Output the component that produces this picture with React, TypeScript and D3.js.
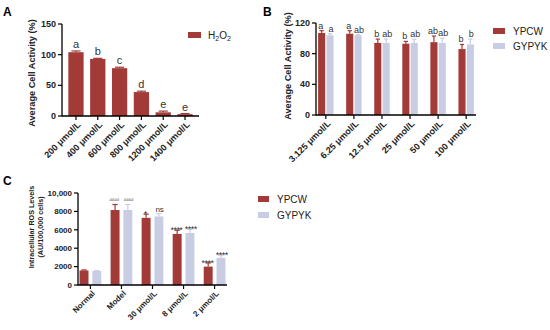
import React from "react";
import * as d3 from "d3";

const RED = "#a23b37";
const LAV = "#c9cde4";
const FONT = "'Liberation Sans', Arial, Helvetica, sans-serif";

// panel A: H2O2 dose
const aDoses = ["200 μmol/L", "400 μmol/L", "600 μmol/L", "800 μmol/L", "1200 μmol/L", "1400 μmol/L"];
const aActivity = [104, 93, 78, 39, 6, 3];
const aActivityErr = [2, 1, 1.5, 1.5, 2, 1];
const aLetters = ["a", "b", "c", "d", "e", "e"];
const aTicks = [0, 50, 100, 150];

// panel B: YPCW vs GYPYK
const bDoses = ["3.125 μmol/L", "6.25 μmol/L", "12.5 μmol/L", "25 μmol/L", "50 μmol/L", "100 μmol/L"];
const bYpcw = [107, 106, 94, 93, 95, 86];
const bYpcwErr = [3, 4, 5, 3, 8, 6];
const bYpcwLetters = ["a", "a", "b", "b", "ab", "b"];
const bGypyk = [104, 104, 94, 94, 94, 92];
const bGypykErr = [2, 1, 5, 5, 6, 7];
const bGypykLetters = ["a", "ab", "ab", "ab", "ab", "b"];
const bTicks = [0, 40, 80, 120];

// panel C: ROS levels
const cGroups = ["Normal", "Model", "30 μmol/L", "8 μmol/L", "2 μmol/L"];
const cYpcw = [1580, 8150, 7300, 5550, 2000];
const cYpcwErr = [60, 600, 400, 400, 400];
const cYpcwMarks = ["", "####", "*", "****", "****"];
const cGypyk = [1520, 8150, 7450, 5650, 2950];
const cGypykErr = [40, 600, 300, 400, 300];
const cGypykMarks = ["", "####", "ns", "****", "****"];
const cTicks = [0, 2000, 4000, 6000, 8000, 10000];

type Series = { color: string; values: number[]; errs: number[]; marks: string[] };

type PanelProps = {
  cats: string[];
  series: Series[];
  xr: [number, number];
  yr: [number, number];
  max: number;
  ticks: number[];
  tickFmt: (v: number) => string;
  pin: number;
  pout: number;
  subPad: number;
  fs: number;
  markFs: number;
  markGap: number;
  nudge?: number;
};

const BarPanel = ({ cats, series, xr, yr, max, ticks, tickFmt, pin, pout, subPad, fs, markFs, markGap, nudge = 0 }: PanelProps) => {
  const x = d3.scaleBand<string>().domain(cats).range(xr).paddingInner(pin).paddingOuter(pout);
  const sub = d3
    .scaleBand<number>()
    .domain(series.map((_, i) => i))
    .range([0, x.bandwidth()])
    .paddingInner(subPad);
  const y = d3.scaleLinear().domain([0, max]).range(yr);
  const base = y(0);

  return (
    <g fontFamily={FONT}>
      {series.map((s, si) =>
        cats.map((c, i) => {
          const bx = (x(c) ?? 0) + (sub(si) ?? 0);
          const bw = sub.bandwidth();
          const cx = bx + bw / 2;
          const top = y(s.values[i]);
          const et = y(s.values[i] + s.errs[i]);
          const m = s.marks[i];
          const isStar = m.startsWith("*");
          const isHash = m.startsWith("#");
          // asterisks sit high in the em box, so their baseline goes lower
          const my = isStar ? et + 3 : isHash ? et - 4 : et - markGap;
          const mx = cx + (si - (series.length - 1) / 2) * nudge;
          return (
            <g key={`${si}-${i}`}>
              <rect x={bx} y={top} width={bw} height={base - top} fill={s.color} />
              <line x1={cx} x2={cx} y1={top} y2={et} stroke={s.color} strokeWidth={1.2} />
              <line x1={cx - bw * 0.3} x2={cx + bw * 0.3} y1={et} y2={et} stroke={s.color} strokeWidth={1.2} />
              {m && (
                <text
                  x={mx}
                  y={my}
                  textAnchor="middle"
                  fontSize={isHash ? markFs * 0.55 : isStar ? markFs * 1.12 : markFs}
                  letterSpacing={isStar ? -0.5 : 0}
                  fill={isHash ? "#888" : "#333"}
                  fontWeight={isHash ? "bold" : "normal"}
                >
                  {m}
                </text>
              )}
            </g>
          );
        })
      )}
      {/* y axis */}
      <line x1={xr[0]} x2={xr[0]} y1={base + 0.6} y2={y(max)} stroke="#000" strokeWidth={1.3} />
      {ticks.map((t) => (
        <g key={t}>
          <line x1={xr[0] - 4} x2={xr[0]} y1={y(t)} y2={y(t)} stroke="#000" strokeWidth={1.2} />
          <text x={xr[0] - 6} y={y(t)} dy="0.35em" textAnchor="end" fontSize={fs} fontWeight="bold" fill="#222">
            {tickFmt(t)}
          </text>
        </g>
      ))}
      {/* x axis */}
      <line x1={xr[0]} x2={xr[1]} y1={base} y2={base} stroke="#000" strokeWidth={1.3} />
      {cats.map((c) => {
        const cx = (x(c) ?? 0) + x.bandwidth() / 2;
        return (
          <g key={c}>
            <line x1={cx} x2={cx} y1={base} y2={base + 4} stroke="#000" strokeWidth={1.2} />
            <text
              transform={`translate(${cx + 3},${base + 7}) rotate(-45)`}
              textAnchor="end"
              dy="0.35em"
              fontSize={fs}
              fontWeight="bold"
              fill="#222"
            >
              {c}
            </text>
          </g>
        );
      })}
    </g>
  );
};

export default function App() {
  const fmtC = d3.format(",");
  return (
    <svg width={550} height={330} style={{ display: "block", position: "absolute", left: 0, top: 0 }}>
      <rect width={550} height={330} fill="#fff" />
      <g fontFamily={FONT}>
        <text x={3} y={16} fontSize={12} fontWeight="bold">A</text>
        <text x={263} y={16} fontSize={12} fontWeight="bold">B</text>
        <text x={3} y={185} fontSize={12} fontWeight="bold">C</text>

        <text transform="translate(35,73) rotate(-90)" textAnchor="middle" fontSize={9.2} fontWeight="bold" fill="#222">
          Average Cell Activity (%)
        </text>
        <text transform="translate(291,66) rotate(-90)" textAnchor="middle" fontSize={9.2} fontWeight="bold" fill="#222">
          Average Cell Activity (%)
        </text>
        <text transform="translate(34,227) rotate(-90)" textAnchor="middle" fontSize={7.2} fontWeight="bold" fill="#222">
          <tspan x={0} dy={0}>Intracellular ROS Levels</tspan>
          <tspan x={0} dy={9}>(AU/100,000 cells)</tspan>
        </text>

        {/* legends */}
        <rect x={188} y={32} width={13} height={6} fill={RED} />
        <text x={208} y={39} fontSize={10} fill="#222">
          H<tspan fontSize={7} dy={2}>2</tspan>
          <tspan dy={-2}>O</tspan>
          <tspan fontSize={7} dy={2}>2</tspan>
        </text>

        <rect x={493} y={28} width={12} height={6} fill={RED} />
        <text x={513} y={35} fontSize={10} fill="#222">YPCW</text>
        <rect x={493} y={43} width={12} height={6} fill={LAV} />
        <text x={513} y={50} fontSize={10} fill="#222">GYPYK</text>

        <rect x={258} y={196} width={11} height={6} fill={RED} />
        <text x={277} y={203} fontSize={10} fill="#222">YPCW</text>
        <rect x={258} y={212} width={11} height={6} fill={LAV} />
        <text x={277} y={219} fontSize={10} fill="#222">GYPYK</text>
      </g>

      <BarPanel
        cats={aDoses}
        series={[{ color: RED, values: aActivity, errs: aActivityErr, marks: aLetters }]}
        xr={[62, 199]}
        yr={[116, 24]}
        max={150}
        ticks={aTicks}
        tickFmt={(v) => String(v)}
        pin={0.3}
        pout={0.29}
        subPad={0}
        fs={9}
        markFs={11}
        markGap={3}
      />
      <BarPanel
        cats={bDoses}
        series={[
          { color: RED, values: bYpcw, errs: bYpcwErr, marks: bYpcwLetters },
          { color: LAV, values: bGypyk, errs: bGypykErr, marks: bGypykLetters },
        ]}
        xr={[316, 476]}
        yr={[115, 23]}
        max={120}
        ticks={bTicks}
        tickFmt={(v) => String(v)}
        pin={0.45}
        pout={0.075}
        subPad={0.15}
        fs={9}
        markFs={9}
        markGap={2}
        nudge={2}
      />
      <BarPanel
        cats={cGroups}
        series={[
          { color: RED, values: cYpcw, errs: cYpcwErr, marks: cYpcwMarks },
          { color: LAV, values: cGypyk, errs: cGypykErr, marks: cGypykMarks },
        ]}
        xr={[78, 227]}
        yr={[285, 193]}
        max={10000}
        ticks={cTicks}
        tickFmt={(v) => (v >= 10000 ? fmtC(v) : String(v))}
        pin={0.3}
        pout={0.05}
        subPad={0.3}
        fs={8}
        markFs={8}
        markGap={2}
        nudge={1.5}
      />
    </svg>
  );
}
